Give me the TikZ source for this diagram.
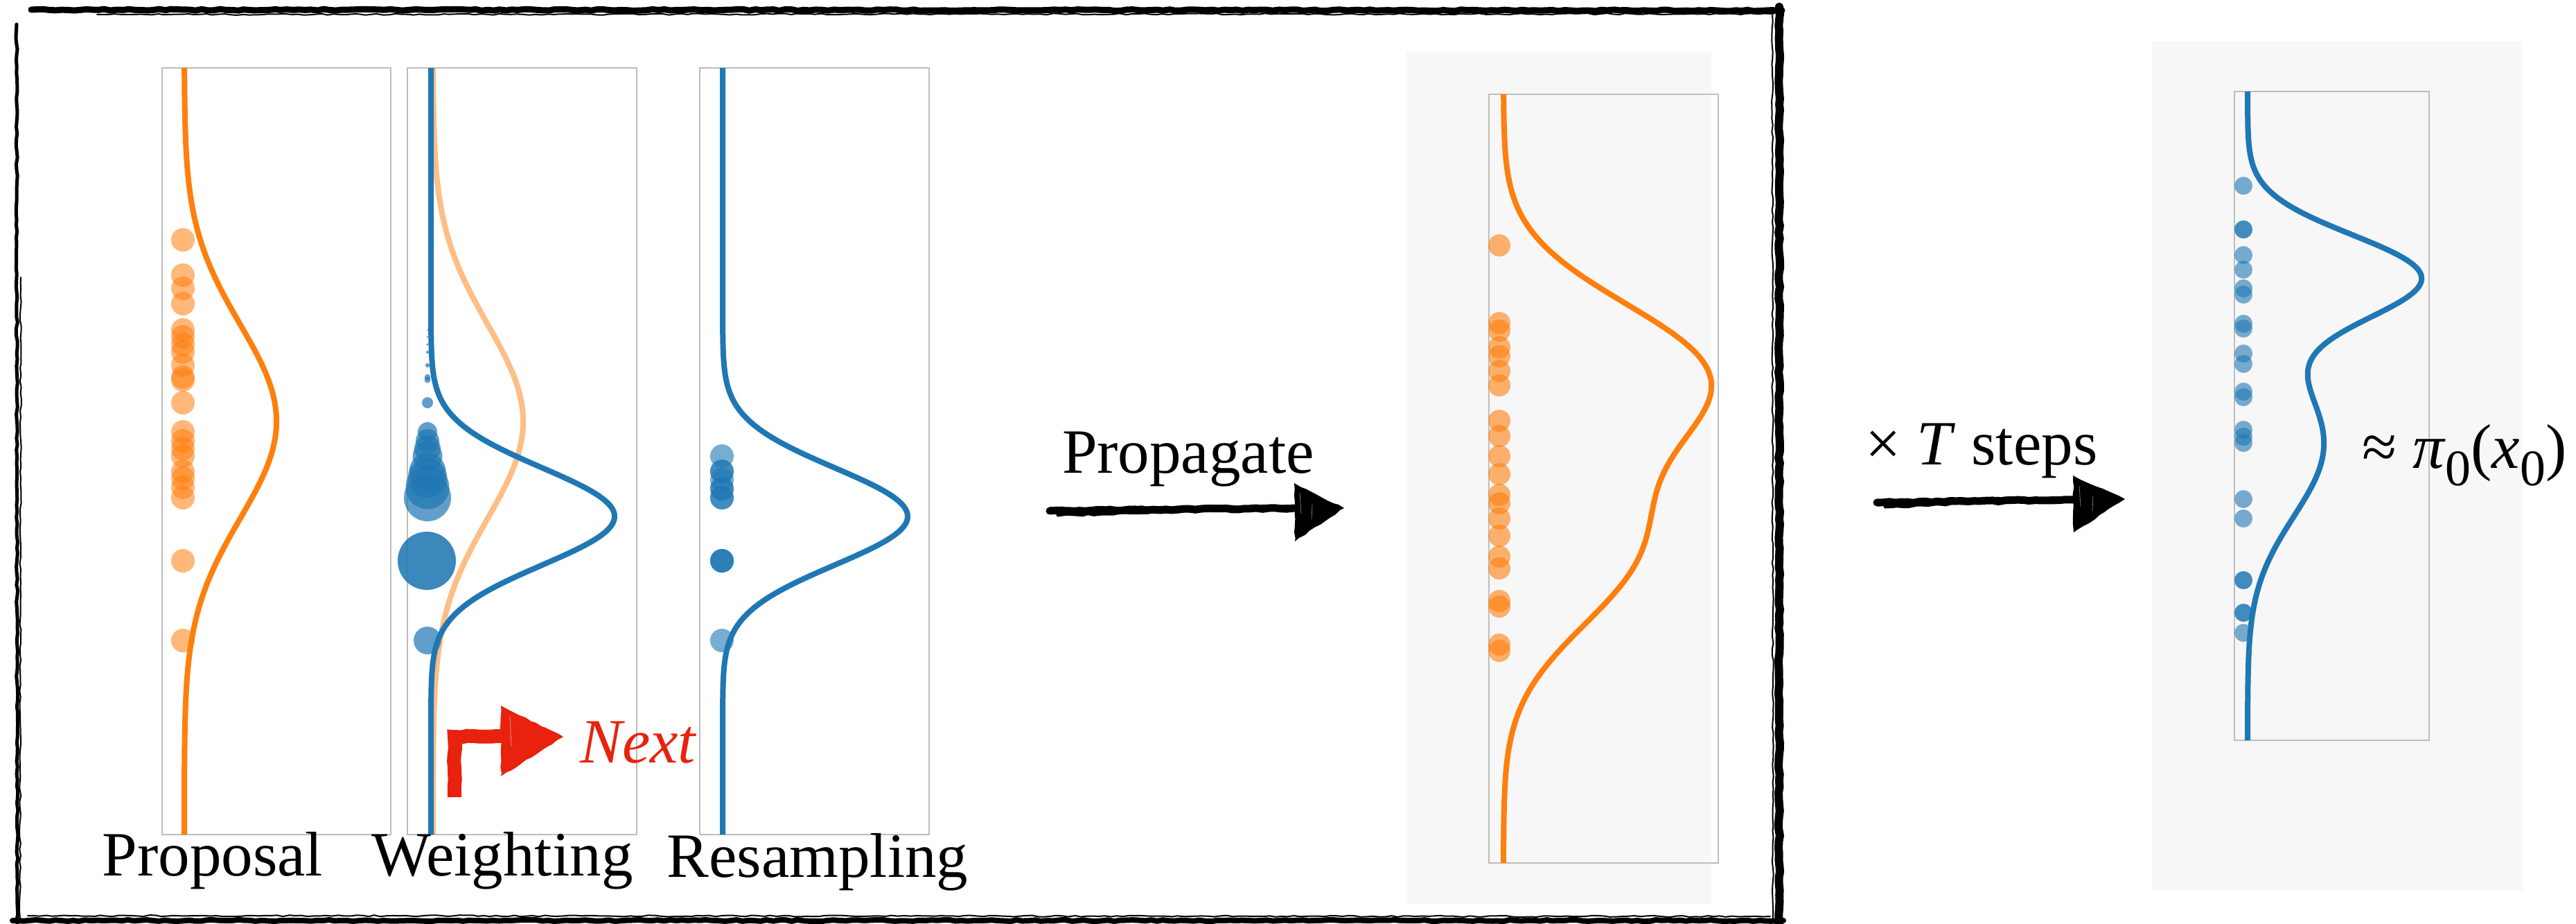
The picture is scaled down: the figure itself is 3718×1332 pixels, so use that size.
\documentclass[tikz,border=0pt]{standalone}
\usepackage{fontspec}
\setmainfont{Liberation Serif}
\usetikzlibrary{calc,decorations.pathmorphing}
\definecolor{tabblue}{HTML}{1F77B4}
\definecolor{taborange}{HTML}{FF7F0E}
\definecolor{nextred}{HTML}{E8220E}
\definecolor{panelgray}{HTML}{F7F7F7}
\definecolor{framegray}{HTML}{BDBDBD}
\begin{document}
\pgfmathsetseed{3}
\begin{tikzpicture}[x=0.02cm, y=-0.02cm,
  declare function={g(\u,\m,\s)=exp(-0.5*((\u-\m)/\s)*((\u-\m)/\s));},
  lw/.style={line width=#1*0.569pt},
  panelframe/.style={draw=framegray, lw=1.6},
  curveO/.style={draw=taborange, lw=8, line join=round},
  curveB/.style={draw=tabblue, lw=8, line join=round},
  curveF/.style={draw=taborange, draw opacity=0.5, lw=8, line join=round},
  txt/.style={font=\fontsize{51.8}{60}\selectfont, inner sep=0pt, anchor=base},
  odot/.style={fill=taborange, fill opacity=0.55},
  bdot/.style={fill=tabblue, fill opacity=0.6},
  rough/.style={decorate, decoration={random steps, segment length=5pt, amplitude=0.6pt}},
  brushline/.style={draw=black, rough, line cap=round},
  brushfill/.style={fill=black, rough},
  redline/.style={draw=nextred, rough},
  redfill/.style={fill=nextred, rough},
  streak/.style={draw=white, lw=0.8, opacity=0.45},
]
\fill[white] (0,0) rectangle (3718,1332);
\useasboundingbox (0,0) rectangle (3718,1332);

% ---------- sketchy outer frame ----------
\draw[brushline, lw=9] (45,14) -- (2572,15);
\draw[brushline, lw=2] (140,21) -- (2560,20);
\draw[brushline, lw=12] (2568,10) -- (2568,1332);
\draw[brushline, lw=2] (2558,22) -- (2559,1324);
\draw[brushline, lw=8] (18,1328) -- (2574,1328);
\draw[brushline, lw=2] (40,1321) -- (2555,1322);
\draw[brushline, lw=5] (24,35) -- (25,1332);
\draw[brushline, lw=2] (30,400) -- (29,1325);

% ---------- gray backgrounds ----------
\fill[panelgray] (2030,76) rectangle (2470,1304);
\fill[panelgray] (3106,59) rectangle (3640,1285);

% ---------- panel frames ----------
\draw[panelframe] (234,98) rectangle (564,1204);
\draw[panelframe] (588,98) rectangle (919,1204);
\draw[panelframe] (1010,98) rectangle (1341,1204);
\draw[panelframe] (2149,136) rectangle (2480,1245);
\draw[panelframe] (3225,132) rectangle (3506,1068);

% ---------- Proposal ----------
\draw[curveO] plot[domain=98:1204, samples=300, variable=\t] ({266+133*g(\t,608,140)},{\t});
\foreach \yy in {346,397,416,438,476,486,497,508,527,544,548,581,623,636,647,658,680,690,703,718,809,924}
  \fill[odot] (264,\yy) circle[radius=17*0.02cm];

% ---------- Weighting ----------
\foreach \yy/\rr in {476/1.2,486/1.4,497/1.8,508/2.2,527/3.2,544/4.3,548/4.5,581/8,623/14,636/17,647/19,658/21.5,680/26.5,690/28.5,703/31.5,718/34,924/20}
  \fill[bdot, fill opacity=0.7] (617,\yy) circle[radius=\rr*0.02cm];
\fill[bdot, fill opacity=0.87] (616,809) circle[radius=42*0.02cm];
\draw[curveF] plot[domain=98:1204, samples=300, variable=\t] ({625+130*g(\t,608,140)},{\t});
\draw[curveB] plot[domain=98:1204, samples=300, variable=\t] ({622+265*g(\t,745,70)},{\t});

% ---------- Resampling ----------
\foreach \yy in {658,680,680,692,705,705,718,718,809,809,809,924}
  \fill[bdot] (1042,\yy) circle[radius=17*0.02cm];
\draw[curveB] plot[domain=98:1204, samples=300, variable=\t] ({1043+267*g(\t,745,70)},{\t});

% ---------- Propagated ----------
\draw[curveO] plot[domain=136:1245, samples=300, variable=\t] ({2170+280*g(\t,540,105)+185*g(\t,790,115)},{\t});
\foreach \yy in {354,466,477,501,514,535,556,607,629,658,684,714,726,748,773,803,820,867,875,930,939}
  \fill[odot, fill opacity=0.6] (2164,\yy) circle[radius=16*0.02cm];

% ---------- Target ----------
\draw[curveB] plot[domain=132:1068, samples=300, variable=\t] ({3244+243*g(\t,399,61)+110*g(\t,640,105)},{\t});
\foreach \yy in {268,331,331,368,389,416,425,467,474,510,525,565,573,620,630,639,720,748,837,837,884,884,913}
  \fill[bdot] (3238,\yy) circle[radius=13*0.02cm];

% ---------- labels ----------
\node[txt] (lprop) at (307,1263) {Proposal};
\node[txt] (lweight) at (725,1263) {Weighting};
\node[txt] (lres) at (1180,1265) {Resampling};
\node[txt] (lpropag) at (1715,682) {Propagate};
\node[txt] (lsteps) at (2860,670) {× \textit{T} steps};
\node[txt, anchor=base west] (lpi) at (3409,675)
  {≈ \textit{π}\raisebox{-0.28em}{\fontsize{42}{42}\selectfont 0}(\textit{x}\raisebox{-0.28em}{\fontsize{42}{42}\selectfont 0})};
\node[txt, anchor=base west, text=nextred] (lnext) at (837,1100) {\textit{Next}};

% ---------- Propagate arrow ----------
\coordinate (prA) at (1515,737);
\coordinate (prM) at (1868,733);
\coordinate (prB) at (1940,733);
\draw[brushline, lw=11] (prA) -- (prM);
\draw[brushline, lw=5] ($(prA)+(12,6)$) -- ($(prM)+(-160,4)$);
\draw[brushline, lw=3] ($(prA)+(0,-4)$) -- ($(prM)+(0,-3)$);
\fill[brushfill] (prB) -- ++(-72,-36) -- ++(1,84) -- cycle;
\draw[streak] ($(prM)+(8,-22)$) -- ++(2,30);
\draw[streak] ($(prM)+(26,-6)$) -- ++(-1,22);

% ---------- x T steps arrow ----------
\coordinate (stA) at (2709,725);
\coordinate (stM) at (2993,721);
\coordinate (stB) at (3067,720);
\draw[brushline, lw=11] (stA) -- (stM);
\draw[brushline, lw=5] ($(stA)+(12,6)$) -- ($(stM)+(-140,4)$);
\draw[brushline, lw=3] ($(stA)+(0,-4)$) -- ($(stM)+(0,-3)$);
\fill[brushfill] (stB) -- ++(-75,-34) -- ++(1,82) -- cycle;
\draw[streak] ($(stM)+(8,-20)$) -- ++(2,30);
\draw[streak] ($(stM)+(28,-6)$) -- ++(-1,22);

% ---------- red Next arrow ----------
\coordinate (nxA) at (656,1150);
\coordinate (nxB) at (656,1063);
\coordinate (nxM) at (726,1062);
\coordinate (nxT) at (813,1063);
\draw[redline, lw=20, line join=miter] (nxA) -- (nxB) -- (nxM);
\fill[redfill] (nxT) -- ++(-90,-45) -- ++(0,102) -- cycle;
\draw[streak] ($(nxM)+(10,-30)$) -- ++(2,45);
\end{tikzpicture}
\end{document}
